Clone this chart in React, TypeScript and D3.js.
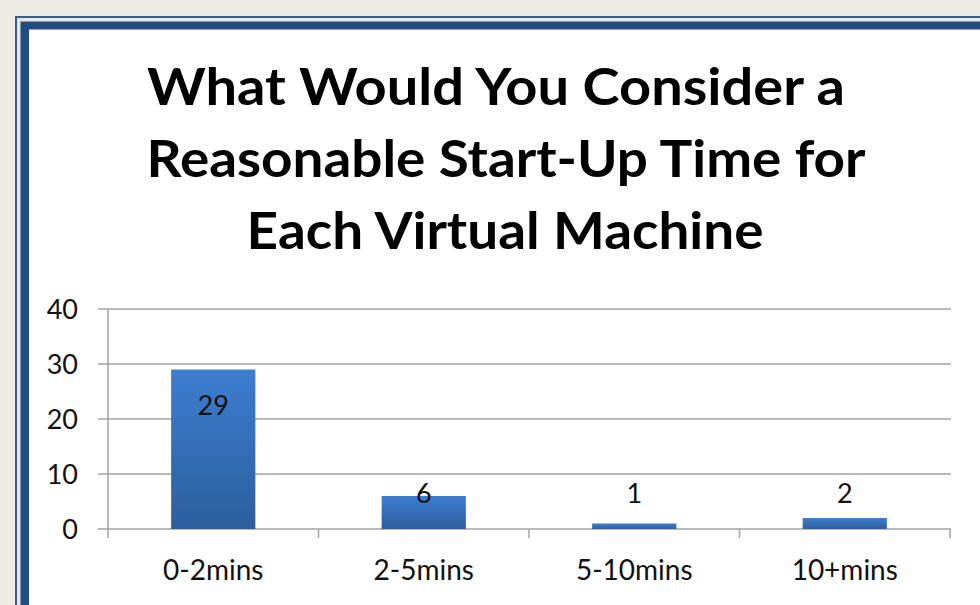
import React from "react";
import * as d3 from "d3";

const categories = ["0-2mins", "2-5mins", "5-10mins", "10+mins"];
const values = [29, 6, 1, 2];
const yTicks = [0, 10, 20, 30, 40];
const titleLines = [
  "What Would You Consider a",
  "Reasonable Start-Up Time for",
  "Each Virtual Machine",
];

const W = 980;
const H = 605;

export default function App() {
  const x = d3.scaleBand<string>().domain(categories).range([108, 950]).paddingInner(0).paddingOuter(0);
  const y = d3.scaleLinear().domain([0, 40]).range([529, 309]);
  const barW = x.bandwidth() * 0.4;
  const y0 = y(0);
  const font = "Lato, 'Open Sans', sans-serif";
  const titleWidths = [698, 719, 517];
  const titleCenters = [496, 506, 505];
  const titleBaselines = [105, 177, 249];

  return (
    <svg width={W} height={H} style={{ position: "absolute", left: 0, top: 0 }}>
      <defs>
        <linearGradient id="barGrad" x1="0" y1="0" x2="0" y2="1">
          <stop offset="0" stopColor="#3d7ed0" />
          <stop offset="1" stopColor="#2c5e9e" />
        </linearGradient>
      </defs>
      <rect x={0} y={0} width={W} height={H} fill="#efece6" />
      {/* frame */}
      <rect x={15} y={16} width={W} height={H} fill="#3a5f8f" />
      <rect x={17} y={18} width={W} height={H} fill="#e9e7e2" />
      <rect x={20.5} y={21.5} width={W} height={H} fill="#224b80" />
      <rect x={29} y={29.5} width={W} height={H} fill="#ffffff" />

      {titleLines.map((t, i) => (
        <text
          key={t}
          x={titleCenters[i]}
          y={titleBaselines[i]}
          textAnchor="middle"
          fontFamily={font}
          fontWeight="bold"
          fontSize={51}
          fill="#000"
          textLength={titleWidths[i]}
          lengthAdjust="spacingAndGlyphs"
        >
          {t}
        </text>
      ))}

      {/* gridlines */}
      {yTicks.map((t) => (
        <g key={t}>
          <line x1={98} x2={951} y1={y(t)} y2={y(t)} stroke="#a3a3a3" strokeWidth={1.5} />
          <text x={78} y={y(t) + 9.5} textAnchor="end" fontFamily={font} fontSize={27} fill="#111">
            {t}
          </text>
        </g>
      ))}
      {/* y axis */}
      <line x1={108} x2={108} y1={y(40)} y2={y0 + 9} stroke="#a3a3a3" strokeWidth={1.5} />
      {/* x ticks at category boundaries */}
      {categories.map((c) => (
        <line key={c} x1={(x(c) as number) + x.bandwidth()} x2={(x(c) as number) + x.bandwidth()} y1={y0} y2={y0 + 9} stroke="#a3a3a3" strokeWidth={1.5} />
      ))}

      {/* bars */}
      {categories.map((c, i) => {
        const cx = (x(c) as number) + x.bandwidth() / 2;
        return (
          <g key={c}>
            <rect x={cx - barW / 2} y={y(values[i])} width={barW} height={y0 - y(values[i])} fill="url(#barGrad)" />
            <text
              x={cx}
              y={Math.min(y(values[i]) + 45.5, y0 - 26)}
              textAnchor="middle"
              fontFamily={font}
              fontSize={27}
              fill="#111"
            >
              {values[i]}
            </text>
            <text x={cx} y={579.5} textAnchor="middle" fontFamily={font} fontSize={28} fill="#111">
              {c}
            </text>
          </g>
        );
      })}
    </svg>
  );
}
